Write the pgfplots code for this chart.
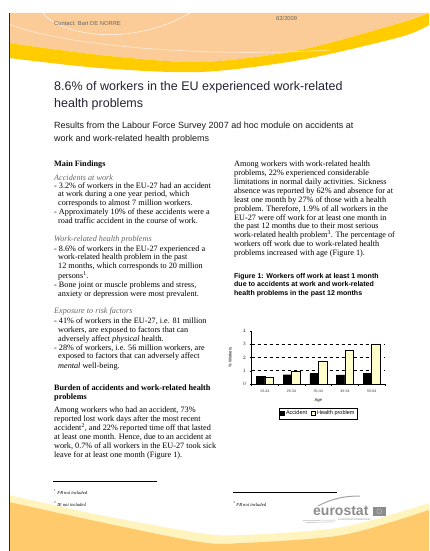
\documentclass[border=0pt]{standalone}
\usepackage{pgfplots}
\pgfplotsset{compat=1.18}
\usepackage{fontspec}
\setmainfont{Liberation Serif}
\setsansfont{Liberation Sans}

\definecolor{peach}{RGB}{251,203,152}
\definecolor{gold}{RGB}{255,204,0}
\definecolor{botorange}{RGB}{254,202,108}
\definecolor{pale}{RGB}{255,243,190}
\definecolor{hbar}{RGB}{255,255,204}
\definecolor{titlec}{RGB}{34,34,51}
\definecolor{logogray}{RGB}{140,140,140}

\newcommand\body{\fontsize{8.2}{9}\selectfont}
\pgfplotsset{sqlegend/.style={legend image code/.code={\draw[##1] (0pt,-1.8pt) rectangle (3.6pt,1.8pt);}}}

\begin{document}
\begin{tikzpicture}
\useasboundingbox (0,0) rectangle (429pt,-551pt);
\begin{scope}[x=1pt,y=-1pt]
  \clip (0,0) rectangle (429,551);
  % header band
  \fill[peach] (9,13) -- (429,13) -- plot[smooth] coordinates {(429,13) (400,23) (300,50) (200,62) (100,55) (9,43)} -- cycle;
  \fill[gold] plot[smooth] coordinates {(9,43) (100,55) (200,62) (300,50) (400,23) (429,13)} -- (429,25)
     -- plot[smooth] coordinates {(429,25) (400,37) (300,60) (200,72) (100,68) (9,58)} -- cycle;
  \draw[white, opacity=0.8, line width=0.6pt] (43,13) .. controls (60,35) and (130,48) .. (190,13);
  \draw[white, opacity=0.5, line width=0.8pt] (9,24) .. controls (60,45) and (200,58) .. (330,50);
  % bottom band
  \fill[pale] plot[smooth] coordinates {(9,495) (100,515) (200,533) (243,535) (343,527) (429,503)} -- (429,551) -- (9,551) -- cycle;
  \fill[botorange] plot[smooth] coordinates {(9,502) (100,522) (200,542) (243,543) (343,535) (429,510)} -- (429,551) -- (9,551) -- cycle;
  % left border
  \draw[line width=1.4pt, black!85] (9.7,13) -- (9.7,551);

  \begin{scope}[every node/.style={anchor=base west, inner sep=0pt}]
  % header texts
  \node[font=\fontsize{5.8}{7}\sffamily, text=black!60] at (54,26) {Contact: Bart DE NORRE};
  \node[font=\fontsize{5.8}{7}\sffamily, text=black!60] at (276,20.5) {63/2009};
  \node[font=\fontsize{12.5}{15}\sffamily, text=titlec] at (54,90) {8.6\% of workers in the EU experienced work-related};
  \node[font=\fontsize{12.5}{15}\sffamily, text=titlec] at (54,107) {health problems};
  \node[font=\fontsize{9}{10}\sffamily, text=black!90] at (54,128) {Results from the Labour Force Survey 2007 ad hoc module on accidents at};
  \node[font=\fontsize{9}{10}\sffamily, text=black!90] at (54,141) {work and work-related health problems};

  % left column
  \node[font=\body\bfseries] at (54,166) {Main Findings};
  \node[font=\body\itshape, text=black!60] at (54,180) {Accidents at work};
  \node[font=\body] at (54,188) {- 3.2\% of workers in the EU-27 had an accident};
  \node[font=\body] at (58,196.5) {at work during a one year period, which};
  \node[font=\body] at (58,205) {corresponds to almost 7 million workers.};
  \node[font=\body] at (54,214.5) {- Approximately 10\% of these accidents were a};
  \node[font=\body] at (58,223) {road traffic accident in the course of work.};
  \node[font=\body\itshape, text=black!60] at (54,241.5) {Work-related health problems};
  \node[font=\body] at (54,251) {- 8.6\% of workers in the EU-27 experienced a};
  \node[font=\body] at (58,259) {work-related health problem in the past};
  \node[font=\body] at (58,268.5) {12 months, which corresponds to 20 million};
  \node[font=\body] at (58,278) {persons\textsuperscript{1}.};
  \node[font=\body] at (54,287) {- Bone joint or muscle problems and stress,};
  \node[font=\body] at (58,296) {anxiety or depression were most prevalent.};
  \node[font=\body\itshape, text=black!60] at (54,313.5) {Exposure to risk factors};
  \node[font=\body] at (54,323) {- 41\% of workers in the EU-27, i.e. 81 million};
  \node[font=\body] at (58,332) {workers, are exposed to factors that can};
  \node[font=\body] at (58,341) {adversely affect \textit{physical} health.};
  \node[font=\body] at (54,350) {- 28\% of workers, i.e. 56 million workers, are};
  \node[font=\body] at (58,358.5) {exposed to factors that can adversely affect};
  \node[font=\body] at (58,368) {\textit{mental} well-being.};
  \node[font=\body\bfseries] at (54,390) {Burden of accidents and work-related health};
  \node[font=\body\bfseries] at (54,399) {problems};
  \node[font=\body] at (54,412) {Among workers who had an accident, 73\%};
  \node[font=\body] at (54,421) {reported lost work days after the most recent};
  \node[font=\body] at (54,430) {accident\textsuperscript{2}, and 22\% reported time off that lasted};
  \node[font=\body] at (54,439) {at least one month. Hence, due to an accident at};
  \node[font=\body] at (54,448.5) {work, 0.7\% of all workers in the EU-27 took sick};
  \node[font=\body] at (54,457.5) {leave for at least one month (Figure 1).};

  % right column
  \node[font=\body] at (234,166) {Among workers with work-related health};
  \node[font=\body] at (234,175) {problems, 22\% experienced considerable};
  \node[font=\body] at (234,184) {limitations in normal daily activities. Sickness};
  \node[font=\body] at (234,193) {absence was reported by 62\% and absence for at};
  \node[font=\body] at (234,202) {least one month by 27\% of those with a health};
  \node[font=\body] at (234,211) {problem. Therefore, 1.9\% of all workers in the};
  \node[font=\body] at (234,220) {EU-27 were off work for at least one month in};
  \node[font=\body] at (234,228.5) {the past 12 months due to their most serious};
  \node[font=\body] at (234,237.5) {work-related health problem\textsuperscript{3}. The percentage of};
  \node[font=\body] at (234,246.5) {workers off work due to work-related health};
  \node[font=\body] at (234,255) {problems increased with age (Figure 1).};
  \node[font=\fontsize{7}{8}\sffamily\bfseries] at (234,278.5) {Figure 1: Workers off work at least 1 month};
  \node[font=\fontsize{7}{8}\sffamily\bfseries] at (234,286.5) {due to accidents at work and work-related};
  \node[font=\fontsize{7}{8}\sffamily\bfseries] at (234,295) {health problems in the past 12 months};

  % footnotes
  \node[font=\fontsize{4.6}{5}\selectfont] at (54,494) {\textsuperscript{1} \textit{FR not included}};
  \node[font=\fontsize{4.6}{5}\selectfont] at (54,506) {\textsuperscript{2} \textit{IE not included}};
  \node[font=\fontsize{4.6}{5}\selectfont] at (233,506) {\textsuperscript{3} \textit{FR not included}};

  % logo
  \node[font=\fontsize{14}{15}\sffamily\bfseries, text=logogray] at (313,515.5) {eurostat};
  \node[font=\fontsize{2.6}{3}\sffamily, text=logogray] at (338,520.5) {EUROPEAN COMMISSION};
  \end{scope}

  \draw[line width=0.7pt] (53,481.7) -- (157,481.7);
  \draw[line width=0.7pt] (233,492.7) -- (337,492.7);
  \fill[logogray] (373,507) rectangle (385.5,515.5);
  \draw[black!25, line width=0.5pt] (379.2,511.2) circle (2.4);
  \draw[logogray!80, line width=1pt] (318,506) .. controls (333,498) and (346,496) .. (360,496);
  \draw[logogray!60, line width=0.5pt] (303,520.5) -- (336,520);
  \draw[logogray!60, line width=0.5pt] (306,522.5) -- (334,521.8);
\end{scope}

\begin{axis}[
  at={(251.5pt,-384pt)}, anchor=south west,
  scale only axis, width=133.5pt, height=53pt,
  xmin=-0.5, xmax=4.5, ymin=0, ymax=4,
  ybar=0pt, bar width=8.5pt,
  axis x line*=bottom, axis y line*=left,
  axis line style={line width=0.5pt},
  xtick={-0.5,0.5,...,4.5}, x tick label as interval,
  xticklabels={15-24,25-34,35-44,45-54,55-64},
  ytick={0,1,2,3,4},
  tick align=outside, major tick length=2pt,
  tick style={black, line width=0.4pt},
  ticklabel style={font=\fontsize{3.6}{4}\sffamily, text=black!80},
  extra y ticks={1,2,3}, extra y tick labels={},
  extra y tick style={grid=major},
  major grid style={dashed, black, line width=0.6pt},
  xlabel={Age}, ylabel={\% Workers},
  label style={font=\fontsize{4.2}{5}\sffamily},
  legend columns=2,
  legend style={at={(0.5,-0.45)}, anchor=north, draw=black, line width=0.4pt,
    font=\fontsize{5.5}{6}\sffamily, inner sep=0.6pt,
    /tikz/every even column/.append style={column sep=2pt}},
]
\addplot[fill=black, draw=black, sqlegend]
  coordinates {(0,0.6) (1,0.7) (2,0.78) (3,0.68) (4,0.78)};
\addplot[fill=hbar, draw=black, sqlegend]
  coordinates {(0,0.5) (1,0.98) (2,1.69) (3,2.54) (4,3.0)};
\legend{Accident, Health problem}
\end{axis}
\end{tikzpicture}
\end{document}
